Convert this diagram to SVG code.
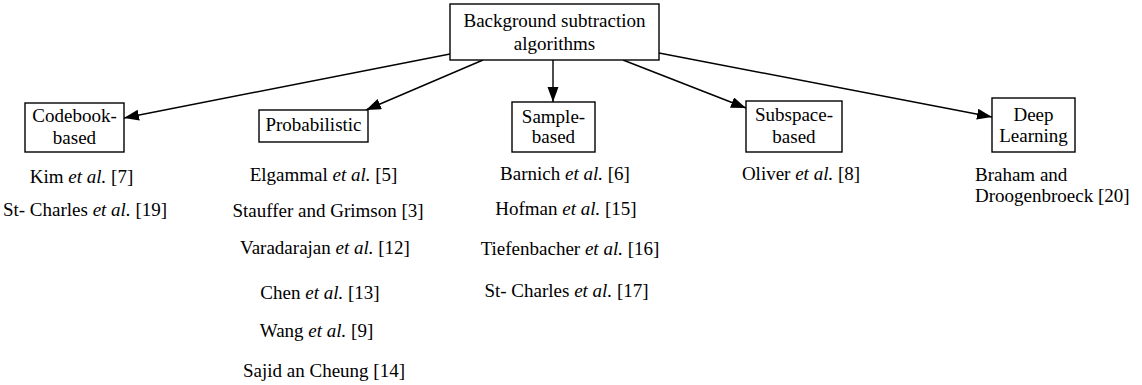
<svg xmlns="http://www.w3.org/2000/svg" width="1142" height="385" viewBox="0 0 1142 385">
<style>
text{font-family:"Liberation Serif","DejaVu Serif",serif;font-size:19px;fill:#000}
.c{text-anchor:middle}
.box{fill:#fff;stroke:#000;stroke-width:1.4}
.edge{fill:none;stroke:#000;stroke-width:1.4}
</style>
<defs>
<marker id="ah" markerUnits="userSpaceOnUse" markerWidth="16" markerHeight="12" refX="15" refY="5.5" orient="auto">
<path d="M0,0 L15,5.5 L0,11 z" fill="#000"/>
</marker>
</defs>
<rect width="1142" height="385" fill="#fff"/>
<g id="connectors">
<line class="edge" x1="450" y1="54" x2="124" y2="118" marker-end="url(#ah)"/>
<line class="edge" x1="483" y1="60" x2="366" y2="110" marker-end="url(#ah)"/>
<line class="edge" x1="553" y1="60" x2="553" y2="102" marker-end="url(#ah)"/>
<line class="edge" x1="623" y1="60" x2="746" y2="108" marker-end="url(#ah)"/>
<line class="edge" x1="659" y1="53" x2="992" y2="117" marker-end="url(#ah)"/>
</g>
<g id="root">
<rect class="box" x="450" y="4" width="209" height="56"/>
<text class="c" x="554.5" y="27">Background subtraction</text>
<text class="c" x="554.5" y="50">algorithms</text>
</g>
<g id="codebook">
<rect class="box" x="25" y="103" width="99" height="49"/>
<text class="c" x="74.5" y="122">Codebook-</text>
<text class="c" x="74.5" y="144">based</text>
<text class="c" x="81.5" y="183">Kim <tspan font-style="italic">et al.</tspan> [7]</text>
<text class="c" x="85" y="216">St- Charles <tspan font-style="italic">et al.</tspan> [19]</text>
</g>
<g id="probabilistic">
<rect class="box" x="259" y="110" width="109" height="32"/>
<text class="c" x="313.5" y="131">Probabilistic</text>
<text class="c" x="323.5" y="181">Elgammal <tspan font-style="italic">et al.</tspan> [5]</text>
<text class="c" x="328" y="216.5">Stauffer and Grimson [3]</text>
<text class="c" x="325" y="254">Varadarajan <tspan font-style="italic">et al.</tspan> [12]</text>
<text class="c" x="320" y="299">Chen <tspan font-style="italic">et al.</tspan> [13]</text>
<text class="c" x="316.5" y="337">Wang <tspan font-style="italic">et al.</tspan> [9]</text>
<text class="c" x="324" y="377">Sajid an Cheung [14]</text>
</g>
<g id="sample">
<rect class="box" x="512" y="102" width="83" height="50"/>
<text class="c" x="553.5" y="123">Sample-</text>
<text class="c" x="553.5" y="143">based</text>
<text class="c" x="565" y="180">Barnich <tspan font-style="italic">et al.</tspan> [6]</text>
<text class="c" x="566" y="215">Hofman <tspan font-style="italic">et al.</tspan> [15]</text>
<text class="c" x="570" y="255">Tiefenbacher <tspan font-style="italic">et al.</tspan> [16]</text>
<text class="c" x="566.5" y="297">St- Charles <tspan font-style="italic">et al.</tspan> [17]</text>
</g>
<g id="subspace">
<rect class="box" x="746" y="101" width="96" height="51"/>
<text class="c" x="794" y="121">Subspace-</text>
<text class="c" x="794" y="143">based</text>
<text class="c" x="801" y="180">Oliver <tspan font-style="italic">et al.</tspan> [8]</text>
</g>
<g id="deeplearning">
<rect class="box" x="992" y="98" width="83" height="54"/>
<text class="c" x="1033.5" y="121">Deep</text>
<text class="c" x="1033.5" y="142">Learning</text>
<text x="975" y="181">Braham and</text>
<text x="975" y="202">Droogenbroeck [20]</text>
</g>
</svg>
